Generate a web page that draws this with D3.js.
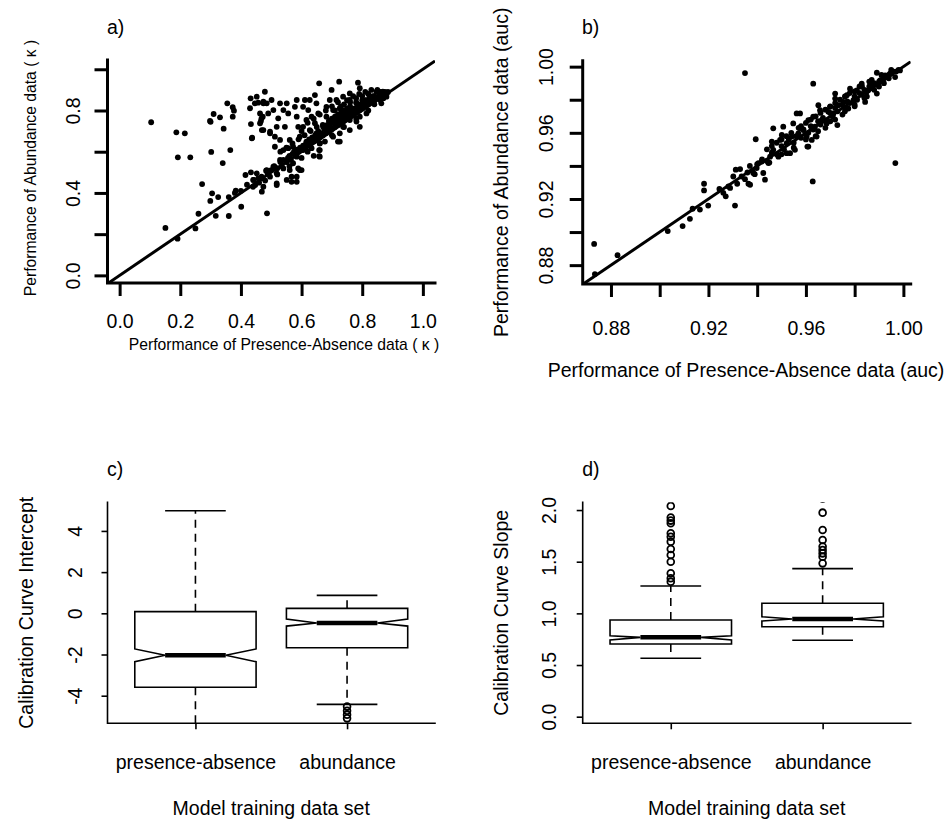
<!DOCTYPE html>
<html><head><meta charset="utf-8">
<script src="https://cdn.jsdelivr.net/npm/d3@7"></script>
<style>
body{margin:0;background:#fff}
svg{display:block}
text{font-family:"Liberation Sans",Arial,Helvetica,sans-serif;font-size:19.5px;fill:#000}
</style>
</head><body>
<svg id="chart" width="950" height="823"></svg>
<script>
// ---------------- DATA ----------------
// Panel a: kappa (presence-absence x, abundance y)
const kappaPairs = [
[0.104,0.743],[0.187,0.694],[0.215,0.689],[0.192,0.573],[0.233,0.573],[0.151,0.230],[0.191,0.178],[0.250,0.228],[0.260,0.299],[0.272,0.443],
[0.302,0.599],[0.298,0.749],[0.300,0.745],[0.310,0.783],[0.331,0.767],[0.343,0.712],[0.355,0.835],[0.373,0.816],[0.377,0.799],[0.373,0.770],
[0.365,0.608],[0.340,0.545],[0.305,0.398],[0.299,0.361],[0.325,0.380],[0.317,0.289],[0.360,0.288],[0.383,0.411],[0.401,0.333],[0.415,0.487],
[0.433,0.500],[0.441,0.463],[0.447,0.438],[0.457,0.471],[0.468,0.479],[0.483,0.508],[0.488,0.492],[0.469,0.406],[0.486,0.301],[0.432,0.859],
[0.430,0.811],[0.433,0.734],[0.437,0.668],[0.457,0.838],[0.463,0.786],[0.466,0.749],[0.469,0.705],[0.479,0.891],[0.474,0.843],[0.485,0.835],
[0.472,0.770],[0.496,0.689],
[0.658,0.932],[0.724,0.940],[0.699,0.900],[0.786,0.935],[0.759,0.883],[0.792,0.908],[0.847,0.891],[0.868,0.891],[0.880,0.867],[0.863,0.835],
[0.841,0.851],[0.825,0.867],[0.814,0.835],[0.803,0.818],[0.781,0.835],[0.759,0.851],[0.737,0.867],[0.715,0.851],[0.693,0.851],[0.682,0.818],
[0.704,0.802],[0.726,0.811],[0.748,0.802],[0.770,0.786],[0.792,0.770],[0.814,0.786],[0.792,0.721],[0.781,0.746],[0.759,0.754],[0.759,0.705],
[0.737,0.721],[0.726,0.689],[0.720,0.649],[0.704,0.673],[0.693,0.738],[0.682,0.770],[0.671,0.721],[0.677,0.649],[0.660,0.641],[0.649,0.689],
[0.644,0.738],[0.655,0.786],[0.649,0.835],[0.644,0.875],[0.627,0.851],[0.611,0.851],[0.605,0.818],[0.622,0.802],[0.633,0.770],[0.616,0.754],
[0.605,0.721],[0.627,0.705],[0.638,0.657],[0.633,0.617],[0.660,0.608],[0.658,0.579],[0.616,0.649],[0.605,0.608],[0.594,0.673],[0.589,0.721],
[0.584,0.770],[0.578,0.818],[0.584,0.851],[0.551,0.835],[0.529,0.835],[0.556,0.786],[0.540,0.802],[0.523,0.762],[0.545,0.721],[0.518,0.721],
[0.496,0.697],[0.512,0.673],[0.529,0.657],[0.561,0.657],[0.572,0.624],[0.556,0.617],[0.512,0.624],[0.540,0.608],[0.584,0.576],[0.572,0.544],
[0.551,0.552],[0.529,0.560],[0.507,0.527],[0.485,0.511],[0.518,0.495],[0.540,0.519],[0.561,0.511],[0.594,0.511],[0.584,0.479],[0.551,0.463],
[0.567,0.454],[0.452,0.495],[0.441,0.463],[0.468,0.471],[0.496,0.479],[0.518,0.438],[0.474,0.430],[0.452,0.867],[0.446,0.835],[0.474,0.835],
[0.501,0.851],[0.507,0.802],[0.490,0.786],[0.468,0.762],[0.463,0.738],[0.436,0.665],[0.474,0.705],
[0.660,0.576],[0.658,0.608],[0.726,0.649],[0.584,0.454],[0.567,0.479],[0.518,0.446],[0.600,0.511],[0.589,0.519],
[0.50,0.51],[0.51,0.53],[0.52,0.52],[0.53,0.55],[0.535,0.53],[0.54,0.56],[0.55,0.55],[0.555,0.57],[0.56,0.58],[0.565,0.56],
[0.57,0.59],[0.575,0.60],[0.58,0.58],[0.585,0.61],[0.59,0.60],[0.595,0.62],[0.60,0.61],[0.605,0.63],[0.61,0.62],[0.615,0.64],
[0.62,0.63],[0.625,0.66],[0.63,0.64],[0.635,0.67],[0.64,0.65],[0.645,0.68],[0.65,0.66],[0.655,0.70],[0.66,0.67],[0.665,0.69],
[0.67,0.68],[0.675,0.71],[0.68,0.69],[0.685,0.73],[0.69,0.70],[0.695,0.72],[0.70,0.71],[0.705,0.74],[0.71,0.72],[0.715,0.75],
[0.72,0.73],[0.725,0.76],[0.73,0.74],[0.735,0.77],[0.74,0.75],[0.745,0.78],[0.75,0.76],[0.755,0.79],[0.76,0.77],[0.765,0.80],
[0.77,0.78],[0.775,0.81],[0.78,0.79],[0.785,0.82],[0.79,0.80],[0.795,0.83],[0.80,0.81],[0.805,0.84],[0.81,0.82],[0.815,0.85],
[0.82,0.83],[0.825,0.86],[0.83,0.84],[0.835,0.87],[0.84,0.85],[0.845,0.86],[0.85,0.86],[0.855,0.87],[0.86,0.87],[0.865,0.88],
[0.87,0.88],[0.875,0.89],[0.88,0.88],[0.885,0.89],
[0.62,0.60],[0.66,0.64],[0.70,0.68],[0.74,0.72],[0.78,0.76],[0.82,0.80],[0.64,0.58],[0.60,0.57],[0.56,0.53],[0.52,0.49],
[0.48,0.46],[0.46,0.45],[0.44,0.43],[0.42,0.44],[0.40,0.41],[0.38,0.40],[0.36,0.38],
[0.60,0.70],[0.62,0.74],[0.64,0.76],[0.66,0.78],[0.68,0.80],[0.70,0.82],[0.72,0.84],[0.74,0.83],[0.76,0.84],[0.78,0.86],
[0.80,0.87],[0.82,0.88],[0.84,0.87],[0.86,0.89],[0.83,0.90],[0.81,0.85],[0.79,0.82],[0.77,0.80],[0.75,0.81],[0.73,0.79],
[0.71,0.77],[0.69,0.75],[0.67,0.73],[0.65,0.72],[0.63,0.70],[0.61,0.68],[0.59,0.66],[0.57,0.64],[0.55,0.62],[0.53,0.60],
[0.71,0.80],[0.73,0.82],[0.75,0.85],[0.77,0.87],[0.79,0.88],[0.81,0.89],[0.85,0.90],[0.87,0.86],[0.86,0.85],[0.84,0.83],
[0.68,0.72],[0.70,0.76],[0.72,0.78],[0.74,0.80],[0.76,0.82],[0.78,0.84],[0.80,0.85]
];

// Panel b: auc (presence-absence x, abundance y)
const aucPairs = [
[0.8731,0.8928],[0.8734,0.8746],[0.8827,0.8860],[0.9033,0.9006],[0.9094,0.9036],[0.9124,0.9080],[0.9135,0.9141],[0.9165,0.9136],[0.9199,0.9160],[0.9182,0.9252],
[0.9182,0.9292],[0.9245,0.9261],[0.9261,0.9237],[0.9271,0.9216],[0.9289,0.9267],[0.9309,0.9160],[0.9312,0.9377],[0.9330,0.9381],[0.9318,0.9292],[0.9336,0.9336],
[0.9350,0.9961],[0.9394,0.9561],[0.9364,0.9292],[0.9384,0.9357],[0.9405,0.9417],[0.9302,0.9336],[0.9282,0.9276],
[0.9371,0.9286],[0.9628,0.9306],[0.9967,0.9417],[0.9630,0.9897],[0.9891,0.9963],[0.9432,0.9317],[0.9425,0.9357],[0.9398,0.9387],[0.9419,0.9426],
[0.9446,0.9417],[0.9453,0.9456],[0.9466,0.9497],[0.9487,0.9456],[0.9466,0.9627],[0.9460,0.9547],[0.9494,0.9557],[0.9507,0.9637],[0.9501,0.9587],[0.9521,0.9537],
[0.9535,0.9477],[0.9555,0.9497],[0.9542,0.9577],[0.9548,0.9657],[0.9562,0.9717],[0.9576,0.9717],[0.9576,0.9627],[0.9569,0.9597],[0.9589,0.9617],[0.9610,0.9677],
[0.9603,0.9577],[0.9606,0.9517],[0.9624,0.9557],[0.9644,0.9577],[0.9637,0.9637],[0.9630,0.9697],[0.9658,0.9737],[0.9651,0.9767],[0.9665,0.9677],[0.9685,0.9657],
[0.9692,0.9727],[0.9699,0.9757],[0.9713,0.9717],[0.9720,0.9807],[0.9720,0.9837],[0.9729,0.9647],[0.9733,0.9767],[0.9754,0.9787],[0.9768,0.9827],[0.9781,0.9867],
[0.9774,0.9747],[0.9795,0.9797],[0.9809,0.9857],[0.9829,0.9897],[0.9843,0.9787],[0.9856,0.9857],[0.9870,0.9897],[0.9891,0.9837],[0.9904,0.9917],[0.9925,0.9947],
[0.9945,0.9957],[0.9966,0.9937],[0.9986,0.9977],[0.9521,0.9477],[0.9610,0.9517],
[0.940,0.941],[0.942,0.944],[0.944,0.943],[0.946,0.948],[0.948,0.947],[0.950,0.952],[0.951,0.950],[0.953,0.956],[0.955,0.954],[0.956,0.958],
[0.958,0.957],[0.959,0.962],[0.961,0.960],[0.962,0.964],[0.963,0.962],[0.965,0.967],[0.966,0.965],[0.967,0.969],[0.968,0.967],[0.970,0.972],
[0.971,0.970],[0.972,0.975],[0.973,0.973],[0.975,0.977],[0.976,0.975],[0.977,0.979],[0.978,0.978],[0.980,0.982],[0.981,0.980],[0.982,0.984],
[0.983,0.983],[0.984,0.986],[0.985,0.985],[0.986,0.988],[0.987,0.987],[0.988,0.990],[0.989,0.989],[0.990,0.991],[0.991,0.992],[0.992,0.993],
[0.993,0.994],[0.994,0.995],[0.995,0.996],[0.996,0.997],[0.997,0.997],[0.998,0.998],[0.990,0.988],[0.985,0.982],[0.980,0.977],[0.975,0.971],
[0.970,0.967],[0.965,0.961],[0.960,0.956],[0.955,0.951],[0.950,0.947],[0.945,0.942],[0.962,0.968],[0.966,0.972],[0.970,0.976],[0.974,0.980],
[0.978,0.984],[0.982,0.988],[0.986,0.991],[0.958,0.964],[0.954,0.960],[0.950,0.956],[0.946,0.952],[0.964,0.958],[0.968,0.963],[0.972,0.968],
[0.976,0.973],[0.980,0.976],[0.984,0.981],[0.988,0.986],[0.992,0.990],[0.994,0.993],
[0.936,0.936],[0.938,0.937],[0.935,0.932],[0.937,0.940],[0.939,0.935],
[0.944,0.950],[0.948,0.954],[0.952,0.958],[0.957,0.963],[0.960,0.966],[0.964,0.970],[0.968,0.974],[0.972,0.978],[0.976,0.982],[0.980,0.985],
[0.983,0.988],[0.987,0.992],[0.991,0.995],[0.995,0.998]
];

const kappaTicks = [0, 0.2, 0.4, 0.6, 0.8, 1.0];
const kappaYLabels = ["0.0", "", "0.4", "", "0.8", ""];
const kappaXLabels = ["0.0", "0.2", "0.4", "0.6", "0.8", "1.0"];
const aucTicks = [0.88, 0.90, 0.92, 0.94, 0.96, 0.98, 1.00];
const aucLabels = ["0.88", "", "0.92", "", "0.96", "", "1.00"];

const boxCategories = ["presence-absence", "abundance"];
// per category: [lowWhisker, Q1, notchLow, median, notchHigh, Q3, highWhisker]
const interceptStats = [
  [-5.6, -3.59, -2.35, -2.04, -1.73, 0.08, 4.98],
  [-4.42, -1.67, -0.62, -0.47, -0.28, 0.24, 0.87]
];
const interceptOutliers = [[], [-4.53, -4.73, -4.92, -5.10]];
const interceptTicks = [-4, -2, 0, 2, 4];
const slopeStats = [
  [0.565, 0.704, 0.742, 0.768, 0.784, 0.936, 1.265],
  [0.740, 0.871, 0.926, 0.946, 0.968, 1.098, 1.433]
];
const slopeOutliers = [
  [2.040, 1.927, 1.898, 1.872, 1.775, 1.742, 1.694, 1.623, 1.565, 1.500, 1.388, 1.340, 1.307],
  [2.110, 1.975, 1.807, 1.710, 1.646, 1.614, 1.581, 1.549, 1.484]
];
const slopeTicks = [0, 0.5, 1.0, 1.5, 2.0];
const slopeLabels = ["0.0", "0.5", "1.0", "1.5", "2.0"];

// ---------------- DRAW ----------------
const FONTFAM = '"Liberation Sans",Arial,sans-serif';
const svg = d3.select("#chart");
svg.append("rect").attr("width", 950).attr("height", 823).attr("fill", "#fff");
let clipId = 0;

function makeClip(g, x0, x1, y0, y1) {
  const id = "clip" + (clipId++);
  g.append("clipPath").attr("id", id).append("rect")
    .attr("x", x0).attr("y", y0).attr("width", x1 - x0).attr("height", y1 - y0);
  return id;
}

function lBox(g, x0, x1, y0, y1, lw) {
  g.append("path").attr("d", `M${x0},${y0}V${y1}H${x1}`)
    .attr("fill", "none").attr("stroke", "#000").attr("stroke-width", lw)
    .attr("stroke-linejoin", "miter").attr("stroke-linecap", "square");
}

function yAxisRot(g, scale, ax, ticks, labels, tickLen, lw, labelBase) {
  const axis = d3.axisLeft(scale).tickValues(ticks).tickSize(tickLen)
    .tickFormat((d, i) => labels[i]);
  const ga = g.append("g").attr("transform", `translate(${ax},0)`).call(axis);
  ga.select(".domain").remove();
  ga.selectAll(".tick line").attr("stroke", "#000").attr("stroke-width", lw);
  ga.selectAll(".tick text")
    .attr("x", 0).attr("dy", null).attr("y", -(ax - labelBase))
    .attr("transform", "rotate(-90)").attr("text-anchor", "middle")
    .style("font-size", "19.5px").style("font-family", FONTFAM);
}

function xAxis(g, scale, ay, ticks, labels, tickLen, lw, labelBase) {
  const axis = d3.axisBottom(scale).tickValues(ticks).tickSize(tickLen)
    .tickFormat((d, i) => labels[i]);
  const ga = g.append("g").attr("transform", `translate(0,${ay})`).call(axis);
  ga.select(".domain").remove();
  ga.selectAll(".tick line").attr("stroke", "#000").attr("stroke-width", lw);
  ga.selectAll(".tick text").attr("y", labelBase - ay).attr("dy", null)
    .attr("text-anchor", "middle")
    .style("font-size", "19.5px").style("font-family", FONTFAM);
}

function rotLabel(g, text, xBase, yc, size) {
  g.append("text").attr("transform", `translate(${xBase},${yc}) rotate(-90)`)
    .attr("text-anchor", "middle").style("font-size", size + "px").text(text);
}

function scatterPanel(opts) {
  const g = svg.append("g");
  const { x0, x1, y0, y1, xs, ys, pairs } = opts;
  const id = makeClip(g, x0, x1, y0, y1);
  const pg = g.append("g").attr("clip-path", `url(#${id})`);
  pg.selectAll("circle").data(pairs).join("circle")
    .attr("cx", d => xs(d[0])).attr("cy", d => ys(d[1])).attr("r", 2.9).attr("fill", "#000");
  const dm = xs.domain();
  pg.append("line")
    .attr("x1", xs(dm[0])).attr("y1", ys(dm[0]))
    .attr("x2", xs(dm[1])).attr("y2", ys(dm[1]))
    .attr("stroke", "#000").attr("stroke-width", 3);
  lBox(g, x0, x1, y0, y1, 3);
  return g;
}

// Panel a
{
  const x0 = 107.5, x1 = 435, y0 = 60, y1 = 283;
  const xs = d3.scaleLinear().domain([-0.04, 1.04]).range([x0, x1]);
  const ys = d3.scaleLinear().domain([-0.037, 1.045]).range([y1, y0]);
  const g = scatterPanel({ x0, x1, y0, y1, xs, ys, pairs: kappaPairs });
  yAxisRot(g, ys, x0, kappaTicks, kappaYLabels, 13, 3, 80);
  xAxis(g, xs, y1, kappaTicks, kappaXLabels, 13, 3, 327.5);
  rotLabel(g, "Performance of Abundance data ( \u03BA )", 36, 168, 15.7);
  g.append("text").attr("x", 284).attr("y", 350).attr("text-anchor", "middle")
    .style("font-size", "15.7px")
    .text("Performance of Presence-Absence data ( \u03BA )");
  g.append("text").attr("x", 107).attr("y", 34).text("a)");
}

// Panel b
{
  const x0 = 582.7, x1 = 910.7, y0 = 60.7, y1 = 284;
  const xs = d3.scaleLinear().domain([0.8684, 1.003]).range([x0, x1]);
  const ys = d3.scaleLinear().domain([0.8686, 1.0036]).range([y1, y0]);
  const g = scatterPanel({ x0, x1, y0, y1, xs, ys, pairs: aucPairs });
  yAxisRot(g, ys, x0, aucTicks, aucLabels, 13, 3, 553);
  xAxis(g, xs, y1, aucTicks, aucLabels, 13, 3, 335);
  rotLabel(g, "Performance of Abundance data (auc)", 508, (y0 + y1) / 2, 19.5);
  g.append("text").attr("x", 746).attr("y", 377).attr("text-anchor", "middle")
    .text("Performance of Presence-Absence data (auc)");
  g.append("text").attr("x", 582).attr("y", 34).text("b)");
}

function boxPanel(opts) {
  const { x0, x1, y0, y1, yDomain, stats, outliers, ticks, labels, ylab, tag, labelBase } = opts;
  const g = svg.append("g");
  const xs = d3.scaleLinear().domain([0.42, 2.58]).range([x0, x1]);
  const ys = d3.scaleLinear().domain(yDomain).range([y1, y0]);
  const id = makeClip(g, x0, x1, y0, y1);
  const pg = g.append("g").attr("clip-path", `url(#${id})`);
  const hw = xs(1.4) - xs(1);
  stats.forEach((s, i) => {
    const cx = xs(i + 1);
    const [lo, q1, nlo, med, nhi, q3, hi] = s.map(v => ys(v));
    const bg = pg.append("g");
    bg.append("line").attr("x1", cx).attr("x2", cx).attr("y1", q3).attr("y2", hi)
      .attr("stroke", "#000").attr("stroke-width", 1.6).attr("stroke-dasharray", "8,6");
    bg.append("line").attr("x1", cx).attr("x2", cx).attr("y1", q1).attr("y2", lo)
      .attr("stroke", "#000").attr("stroke-width", 1.6).attr("stroke-dasharray", "8,6");
    [lo, hi].forEach(yv => bg.append("line").attr("x1", cx - hw / 2).attr("x2", cx + hw / 2)
      .attr("y1", yv).attr("y2", yv).attr("stroke", "#000").attr("stroke-width", 1.6));
    const p = d3.path();
    p.moveTo(cx - hw, q1); p.lineTo(cx - hw, nlo); p.lineTo(cx - hw / 2, med);
    p.lineTo(cx - hw, nhi); p.lineTo(cx - hw, q3); p.lineTo(cx + hw, q3);
    p.lineTo(cx + hw, nhi); p.lineTo(cx + hw / 2, med); p.lineTo(cx + hw, nlo);
    p.lineTo(cx + hw, q1); p.closePath();
    bg.append("path").attr("d", p.toString()).attr("fill", "#fff")
      .attr("stroke", "#000").attr("stroke-width", 1.6).attr("stroke-linejoin", "miter");
    bg.append("line").attr("x1", cx - hw / 2).attr("x2", cx + hw / 2).attr("y1", med).attr("y2", med)
      .attr("stroke", "#000").attr("stroke-width", 4.5);
    bg.selectAll("circle.o").data(outliers[i]).join("circle").attr("class", "o")
      .attr("cx", cx).attr("cy", d => ys(d)).attr("r", 3.4)
      .attr("fill", "none").attr("stroke", "#000").attr("stroke-width", 1.8);
  });
  lBox(g, x0, x1, y0, y1, 1.6);
  yAxisRot(g, ys, x0, ticks, labels, 6, 1.6, labelBase);
  const ga = g.append("g").attr("transform", `translate(0,${y1})`)
    .call(d3.axisBottom(xs).tickValues([1, 2]).tickSize(6).tickFormat((d, i) => boxCategories[i]));
  ga.select(".domain").remove();
  ga.selectAll(".tick line").attr("stroke", "#000").attr("stroke-width", 1.6);
  ga.selectAll(".tick text").attr("y", 769 - y1).attr("dy", null)
    .style("font-size", "19.5px").style("font-family", FONTFAM);
  g.append("text").attr("x", (x0 + x1) / 2).attr("y", 815).attr("text-anchor", "middle")
    .text("Model training data set");
  rotLabel(g, ylab, x0 - 74.5, (y0 + y1) / 2, 19.5);
  g.append("text").attr("x", x0 - 0.5).attr("y", 476).text(tag);
}

boxPanel({ x0: 107.5, x1: 435, y0: 502.3, y1: 723.3, yDomain: [-5.34, 5.39],
  stats: interceptStats, outliers: interceptOutliers, ticks: interceptTicks,
  labels: interceptTicks.map(String), ylab: "Calibration Curve Intercept", tag: "c)", labelBase: 82 });
boxPanel({ x0: 582.7, x1: 910.7, y0: 502.3, y1: 723.3, yDomain: [-0.064, 2.075],
  stats: slopeStats, outliers: slopeOutliers, ticks: slopeTicks,
  labels: slopeLabels, ylab: "Calibration Curve Slope", tag: "d)", labelBase: 556 });
</script>
</body></html>
